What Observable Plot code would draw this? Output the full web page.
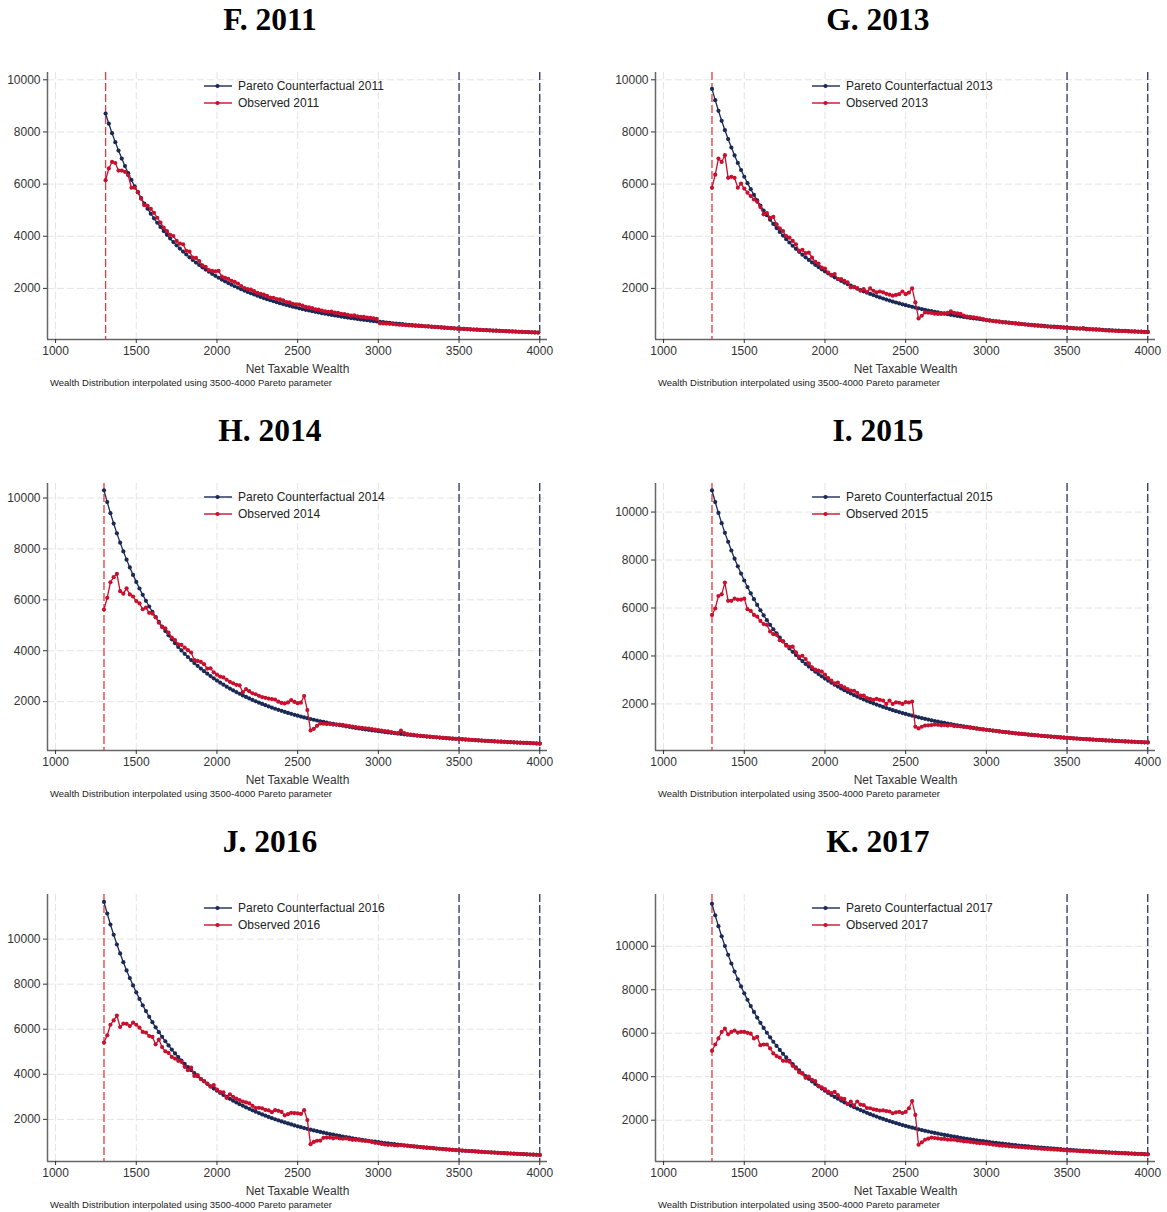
<!DOCTYPE html>
<html>
<head>
<meta charset="utf-8">
<script src="https://cdn.jsdelivr.net/npm/d3@7"></script>
<script src="https://cdn.jsdelivr.net/npm/@observablehq/plot@0.6"></script>
<style>
  body { margin: 0; background: #fff; }
  #wrap { position: relative; width: 1167px; height: 1212px; background: #fff; overflow: hidden; }
  .panel { position: absolute; width: 559px; height: 411px; }
  .title { position: absolute; left: 0; top: 1px; width: 540px; text-align: center;
           font: bold 31.5px "Liberation Serif", "Times New Roman", serif; line-height: 38px; color: #000; }
  .legend { position: absolute; left: 204px; top: 77px; font: 12px "Liberation Sans", Arial, sans-serif; color: #222; }
  .lrow { height: 17px; display: flex; align-items: center; }
  .lrow svg { margin-right: 6px; }
  .caption { position: absolute; left: 50px; top: 377px; font: 9.5px "Liberation Sans", Arial, sans-serif;
             line-height: 12px; color: #222; white-space: nowrap; }
</style>
</head>
<body>
<div id="wrap"></div>
<script>
// ---- data ----
const years = ["2011", "2013", "2014", "2015", "2016", "2017"];
const letters = ["F", "G", "H", "I", "J", "K"];
const binStart = [1310, 1300, 1300, 1300, 1300, 1300];
const binWidth = 20;
const lowerCut = [1310, 1300, 1300, 1300, 1300, 1300];
const upperCuts = [3500, 4000];
const xTicks = [1000, 1500, 2000, 2500, 3000, 3500, 4000];
const yTicks = [2000, 4000, 6000, 8000, 10000];
const xDomain = [950, 4048];
const yBottom = [40, 40, 80, 60, 130, 100];
const yTop = [10280, 10280, 10570, 11190, 11980, 12380];

const pareto2011 = [8703,8317,7953,7609,7286,6980,6691,6418,6159,5915,
5683,5463,5254,5056,4867,4688,4517,4355,4200,4054,
3913,3778,3650,3528,3412,3299,3193,3090,2991,2898,
2808,2722,2639,2559,2482,2409,2339,2271,2205,2143,
2082,2025,1968,1915,1862,1813,1765,1717,1673,1629,
1587,1546,1507,1470,1433,1398,1363,1330,1298,1267,
1237,1208,1180,1153,1126,1100,1075,1051,1027,1005,
983,962,941,921,901,882,863,845,828,811,
794,778,762,747,732,718,703,690,676,663,
650,638,626,614,602,591,580,570,560,549,
540,530,521,511,502,493,485,476,468,460,
452,445,437,430,423,416,410,402,396,390,
384,377,371,365,360,353,348,343,337,332,
328,322,318,312,308];
const observed2011 = [6150,6600,6850,6810,6520,6520,6470,6340,5860,5860,
5700,5440,5190,5170,5050,4900,4710,4520,4330,4200,
4050,4010,3820,3720,3690,3440,3410,3180,3170,3050,
2880,2830,2700,2670,2650,2670,2450,2400,2365,2290,
2250,2185,2090,2015,1970,1950,1895,1830,1790,1760,
1710,1650,1640,1590,1580,1540,1470,1460,1410,1390,
1380,1340,1290,1270,1240,1200,1185,1150,1120,1105,
1110,1070,1060,1020,1010,990,955,965,930,910,
905,880,870,850,830,660,655,650,640,630,
615,605,600,590,580,575,565,560,550,545,
540,528,522,510,503,492,486,474,470,458,
453,446,435,431,421,418,408,404,394,392,
382,379,369,366,358,355,346,344,336,333,
326,323,316,313,306];

const pareto2013 = [9650,9218,8811,8428,8067,7727,7404,7100,6812,6540,
6282,6037,5804,5585,5375,5176,4986,4807,4635,4471,
4315,4167,4024,3889,3760,3635,3516,3404,3295,3190,
3091,2995,2904,2816,2731,2650,2572,2497,2425,2356,
2289,2225,2164,2104,2047,1991,1938,1887,1836,1789,
1743,1697,1655,1613,1573,1533,1496,1459,1424,1390,
1357,1325,1294,1264,1234,1206,1179,1152,1126,1101,
1077,1054,1031,1008,987,966,946,925,906,888,
869,851,835,817,801,786,770,755,740,726,
711,698,685,672,659,647,635,623,612,601,
590,579,569,559,549,539,530,521,511,503,
494,486,478,470,462,455,447,440,432,426,
419,412,405,399,393,386,380,374,369,363,
357,352,346,342,336,331];
const observed2013 = [5860,6360,6980,6850,7110,6240,6280,6240,5860,6020,
5830,5670,5540,5410,5320,5120,4840,4890,4710,4740,
4460,4300,4200,4010,3950,3820,3690,3440,3480,3350,
3370,3180,3020,2950,2800,2760,2610,2520,2550,2360,
2360,2290,2230,2040,2060,2010,1910,1970,1870,2000,
1910,1850,1880,1850,1790,1760,1720,1750,1780,1880,
1780,1840,2000,1460,850,950,1080,1070,1060,1030,
1020,1020,1040,1060,1120,1060,1040,1020,960,920,
905,890,872,850,825,780,765,750,735,722,
700,695,680,668,655,640,628,615,600,590,
575,565,555,545,535,525,518,510,500,492,
485,478,470,462,458,478,430,432,425,418,
415,395,385,380,375,370,365,360,360,350,
345,340,335,330,325,320];

const pareto2014 = [10300,9839,9405,8996,8611,8247,7903,7579,7271,6980,
6705,6444,6195,5961,5737,5525,5322,5130,4947,4772,
4606,4448,4295,4151,4013,3880,3753,3633,3516,3405,
3299,3197,3099,3006,2915,2828,2745,2666,2588,2514,
2443,2375,2309,2245,2185,2125,2068,2014,1960,1910,
1860,1812,1766,1721,1679,1637,1597,1557,1520,1483,
1448,1414,1381,1349,1317,1288,1259,1230,1202,1175,
1149,1125,1100,1076,1054,1031,1009,988,967,948,
928,908,891,872,855,838,822,805,790,775,
759,745,731,717,703,690,678,665,653,642,
629,618,608,596,586,576,565,556,546,537,
527,519,510,502,493,485,477,470,461,454,
447,440,433,425,419,412,406,400,393,387,
381,376,370,365,358,353];
const observed2014 = [5620,6080,6690,6890,7020,6340,6240,6450,6210,6130,
5950,5860,5630,5690,5490,5460,5320,5100,4930,4880,
4710,4520,4420,4250,4230,4120,4020,3930,3630,3600,
3560,3470,3300,3310,3150,3060,2980,2950,2860,2780,
2720,2660,2640,2370,2490,2410,2330,2290,2230,2180,
2150,2120,2100,2080,2000,1950,1930,1970,2060,1990,
1940,1960,2220,1670,870,930,1050,1140,1130,1120,
1120,1100,1100,1095,1090,1060,1040,1020,1000,980,
965,955,940,925,900,880,860,845,830,800,
775,760,860,760,720,700,690,670,660,650,
635,625,610,600,590,580,570,560,550,540,
530,525,515,505,495,485,480,470,460,455,
450,440,430,425,420,410,405,400,395,385,
380,375,370,365,355,350];

const pareto2015 = [10900,10417,9962,9538,9133,8760,8398,8057,7737,7434,
7147,6872,6610,6366,6130,5907,5694,5492,5300,5115,
4940,4771,4610,4459,4313,4173,4039,3911,3788,3670,
3558,3450,3346,3246,3150,3059,2969,2884,2802,2723,
2647,2575,2504,2436,2371,2309,2248,2190,2132,2078,
2025,1974,1925,1877,1831,1786,1743,1701,1661,1621,
1583,1547,1511,1477,1443,1411,1380,1349,1318,1290,
1262,1235,1208,1183,1158,1134,1110,1087,1065,1043,
1022,1001,982,962,943,925,907,889,872,856,
839,823,808,793,778,763,750,737,723,711,
697,685,674,662,650,639,628,618,607,596,
586,577,567,558,549,540,531,523,514,506,
498,490,482,475,468,460,453,446,439,433,
426,420,413,408,401,395];
const observed2015 = [5710,5980,6500,6570,7060,6300,6300,6390,6350,6350,
6390,5950,5880,5710,5640,5460,5330,5300,5020,4910,
4880,4660,4610,4430,4380,4390,4150,3970,4010,3870,
3690,3530,3430,3390,3350,3220,3080,2970,2860,2890,
2760,2690,2620,2560,2550,2460,2350,2350,2240,2210,
2170,2210,2170,2140,2000,2140,2000,2070,2050,2000,
2080,2060,2100,1050,980,1050,1100,1110,1120,1140,
1130,1110,1120,1100,1120,1080,1070,1060,1040,1030,
1010,990,970,950,940,920,905,890,880,860,
840,825,815,790,780,765,750,745,720,710,
700,690,670,665,650,640,630,615,610,595,
585,580,565,560,545,540,530,525,515,505,
500,490,480,475,470,460,455,445,440,435,
425,420,415,405,400,395];

const pareto2016 = [11650,11134,10647,10194,9761,9363,8976,8611,8269,7945,
7639,7345,7065,6804,6552,6313,6086,5870,5665,5467,
5280,5099,4927,4766,4610,4460,4317,4180,4049,3922,
3803,3687,3576,3469,3367,3269,3173,3082,2995,2910,
2829,2752,2676,2604,2534,2468,2403,2341,2279,2221,
2164,2110,2057,2006,1957,1909,1863,1818,1775,1733,
1692,1653,1615,1579,1542,1508,1475,1442,1409,1379,
1349,1320,1291,1264,1238,1212,1186,1162,1138,1115,
1092,1070,1050,1028,1008,989,969,950,932,915,
897,880,864,848,832,815,802,788,773,760,
745,732,720,708,695,683,671,661,649,637,
626,617,606,596,587,577,568,559,549,541,
532,524,515,508,500,492,484,477,469,463,
455,449,441,436,429,422];
const observed2016 = [5410,5730,6200,6390,6610,6100,6250,6240,6140,6290,
6200,6070,5880,5850,5700,5660,5330,5540,5210,5020,
4950,4770,4700,4600,4550,4330,4180,4300,3930,3960,
3790,3700,3590,3450,3520,3320,3210,3200,2950,3110,
3000,2920,2860,2790,2750,2710,2600,2500,2510,2490,
2420,2400,2320,2410,2380,2330,2180,2230,2290,2280,
2270,2240,2410,1970,900,1000,1050,1060,1180,1190,
1190,1160,1190,1150,1140,1160,1120,1090,1090,1080,
1050,1045,1030,990,960,940,910,890,870,870,
850,840,860,840,830,810,800,785,770,755,
745,735,720,705,695,680,670,660,650,635,
625,615,605,595,585,580,570,560,550,540,
530,525,515,505,500,490,485,475,470,460,
455,450,440,435,430,420];

const pareto2017 = [11950,11420,10921,10457,10012,9604,9207,8833,8482,8150,
7835,7534,7247,6979,6720,6476,6242,6021,5810,5608,
5416,5230,5054,4888,4728,4575,4428,4288,4153,4023,
3901,3782,3668,3559,3453,3354,3255,3162,3072,2985,
2902,2823,2745,2671,2599,2531,2465,2401,2337,2278,
2220,2164,2110,2058,2007,1958,1911,1865,1821,1777,
1735,1696,1657,1619,1582,1547,1513,1479,1445,1414,
1384,1354,1324,1297,1270,1243,1217,1192,1168,1143,
1120,1097,1077,1055,1034,1014,994,975,956,938,
920,902,886,869,853,836,822,808,793,779,
764,751,739,726,713,701,688,678,665,653,
642,633,622,612,602,592,582,573,564,555,
546,537,528,521,513,504,497,489,481,475,
467,460,453,447,440,433];
const observed2017 = [5190,5480,5760,6060,6210,5950,6060,6120,6030,6060,
6060,6020,5980,5760,5830,5450,5480,5480,5300,5070,
4950,4880,4730,4730,4690,4500,4380,4200,4150,3950,
4000,3860,3800,3580,3510,3430,3320,3250,3300,3150,
3000,2980,2750,2850,2680,2860,2720,2690,2560,2550,
2500,2470,2440,2450,2420,2400,2320,2360,2380,2330,
2380,2550,2880,2240,870,980,1100,1150,1200,1180,
1160,1140,1140,1110,1100,1100,1070,1060,1030,1020,
1000,980,960,945,940,920,900,880,860,840,
830,820,800,790,780,770,760,745,735,725,
710,700,690,680,670,660,650,640,630,620,
610,600,595,585,575,565,560,550,545,535,
530,520,510,505,500,490,485,480,470,465,
460,450,445,440,430,425];

const paretoSeries = [pareto2011, pareto2013, pareto2014, pareto2015, pareto2016, pareto2017];
const observedSeries = [observed2011, observed2013, observed2014, observed2015, observed2016, observed2017];

// ---- styles ----
const NAVY = "#1a2a55";
const RED = "#c8102e";
const REF_RED = "#e8383d";
const FONT = '"Liberation Sans", Arial, Helvetica, sans-serif';

const wrap = document.getElementById("wrap");

function legendRow(color, text) {
  const row = document.createElement("div");
  row.className = "lrow";
  row.innerHTML = `<svg width="28" height="10"><line x1="0" x2="28" y1="5" y2="5" stroke="${color}" stroke-width="1.4"/><circle cx="13.5" cy="5" r="2.1" fill="${color}"/></svg><span>${text}</span>`;
  return row;
}

years.forEach((yr, k) => {
  const col = k % 2, row = Math.floor(k / 2);
  const panel = document.createElement("div");
  panel.className = "panel";
  panel.style.left = (col * 608) + "px";
  panel.style.top = (row * 411) + "px";

  const title = document.createElement("div");
  title.className = "title";
  title.textContent = `${letters[k]}. ${yr}`;
  panel.appendChild(title);

  const cf = paretoSeries[k], ob = observedSeries[k];
  const rows = cf.map((v, i) => ({ x: binStart[k] + i * binWidth, cf: v, ob: ob[i] }));

  const chart = Plot.plot({
    width: 559, height: 335,
    marginLeft: 47, marginRight: 12, marginTop: 22, marginBottom: 46,
    style: { fontFamily: FONT, fontSize: "12px", color: "#222", background: "transparent", overflow: "visible" },
    x: { domain: xDomain },
    y: { domain: [yBottom[k], yTop[k]] },
    marks: [
      Plot.gridY(yTicks, { stroke: "#e4e4e4", strokeOpacity: 1, strokeWidth: 1, strokeDasharray: "7,3" }),
      Plot.gridX(xTicks, { stroke: "#e4e4e4", strokeOpacity: 1, strokeWidth: 1, strokeDasharray: "7,3" }),
      Plot.ruleX([lowerCut[k]], { stroke: REF_RED, strokeWidth: 1.3, strokeDasharray: "8,3" }),
      Plot.ruleX(upperCuts, { stroke: NAVY, strokeWidth: 1.2, strokeDasharray: "8,3" }),
      Plot.line(rows, { x: "x", y: "cf", stroke: NAVY, strokeWidth: 1.3 }),
      Plot.dot(rows, { x: "x", y: "cf", fill: NAVY, r: 2.1 }),
      Plot.line(rows, { x: "x", y: "ob", stroke: RED, strokeWidth: 1.3 }),
      Plot.dot(rows, { x: "x", y: "ob", fill: RED, r: 2.1 }),
      Plot.ruleX([xDomain[0]], { stroke: "#666", strokeWidth: 1.5 }),
      Plot.ruleY([yBottom[k]], { stroke: "#666", strokeWidth: 1.5 }),
      Plot.axisX({ ticks: xTicks, tickFormat: d => String(d), tickSize: 4, tickPadding: 3, color: "#333",
                   label: "Net Taxable Wealth", labelAnchor: "center", labelOffset: 33, labelArrow: "none" }),
      Plot.axisY({ ticks: yTicks, tickFormat: d => String(d), tickSize: 4, tickPadding: 3, color: "#333", label: null })
    ]
  });
  chart.style.position = "absolute";
  chart.style.left = "0px";
  chart.style.top = "50px";
  panel.appendChild(chart);

  const legend = document.createElement("div");
  legend.className = "legend";
  legend.appendChild(legendRow(NAVY, `Pareto Counterfactual ${yr}`));
  legend.appendChild(legendRow(RED, `Observed ${yr}`));
  panel.appendChild(legend);

  const cap = document.createElement("div");
  cap.className = "caption";
  cap.textContent = "Wealth Distribution interpolated using 3500-4000 Pareto parameter";
  panel.appendChild(cap);

  wrap.appendChild(panel);
});
</script>
</body>
</html>
